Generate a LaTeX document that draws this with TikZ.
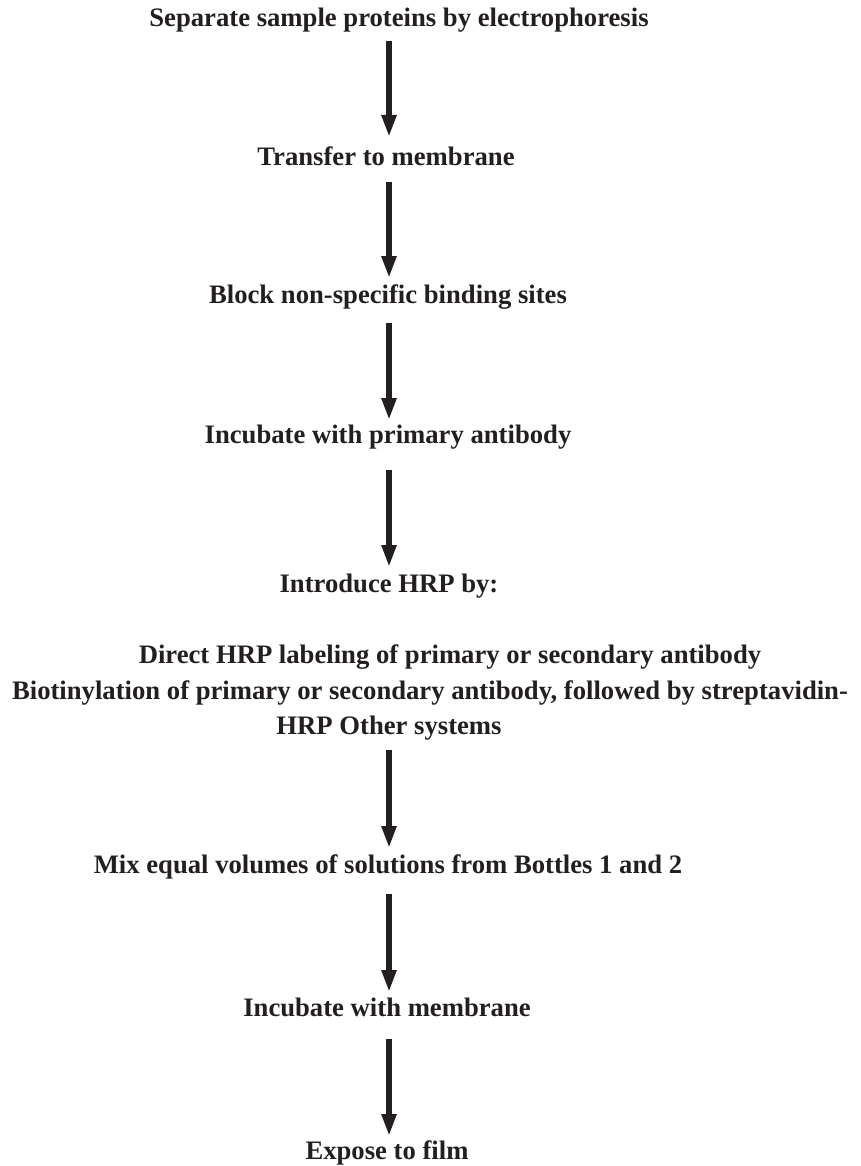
\documentclass[tikz,border=0pt]{standalone}
\usepackage{fontspec}
\setmainfont{Liberation Serif}
\usetikzlibrary{arrows.meta,calc}
\definecolor{ink}{HTML}{231F20}
\begin{document}
\begin{tikzpicture}[x=0.75pt,y=-0.75pt,
  lbl/.style={anchor=base,inner sep=0pt,font=\fontsize{20pt}{27pt}\selectfont\bfseries,text=ink},
  arr/.style={draw=ink,line width=4pt,-{Triangle[width=10.5pt,length=16.5pt]}}]
\path[use as bounding box,fill=white] (0,0) rectangle (860,1166);
\coordinate (ax) at (389,0);
\node[lbl] (s1) at (399,27) {Separate sample proteins by electrophoresis};
\node[lbl] (s2) at (386,166) {Transfer to membrane};
\node[lbl] (s3) at (388,303) {Block non-specific binding sites};
\node[lbl] (s4) at (388,443) {Incubate with primary antibody};
\node[lbl] (s5) at (389,592) {Introduce HRP by:};
\node[lbl] (s6a) at (450,663) {Direct HRP labeling of primary or secondary antibody};
\node[lbl] (s6b) at (430,699) {Biotinylation of primary or secondary antibody, followed by streptavidin-};
\node[lbl] (s6c) at (389,734) {HRP Other systems};
\node[lbl] (s7) at (388,873) {Mix equal volumes of solutions from Bottles 1 and 2};
\node[lbl] (s8) at (387,1016) {Incubate with membrane};
\node[lbl] (s9) at (387,1159) {Expose to film};
\draw[arr] ([yshift=-10.5pt]s1.base -| ax) -- ([yshift=21.75pt]s2.base -| ax);
\draw[arr] ([yshift=-12pt]s2.base -| ax) -- ([yshift=18.75pt]s3.base -| ax);
\draw[arr] ([yshift=-15pt]s3.base -| ax) -- ([yshift=17.25pt]s4.base -| ax);
\draw[arr] ([yshift=-20.25pt]s4.base -| ax) -- ([yshift=18.75pt]s5.base -| ax);
\draw[arr] ([yshift=-12pt]s6c.base -| ax) -- ([yshift=18.75pt]s7.base -| ax);
\draw[arr] ([yshift=-15.75pt]s7.base -| ax) -- ([yshift=18pt]s8.base -| ax);
\draw[arr] ([yshift=-17.25pt]s8.base -| ax) -- ([yshift=17.25pt]s9.base -| ax);
\end{tikzpicture}
\end{document}
